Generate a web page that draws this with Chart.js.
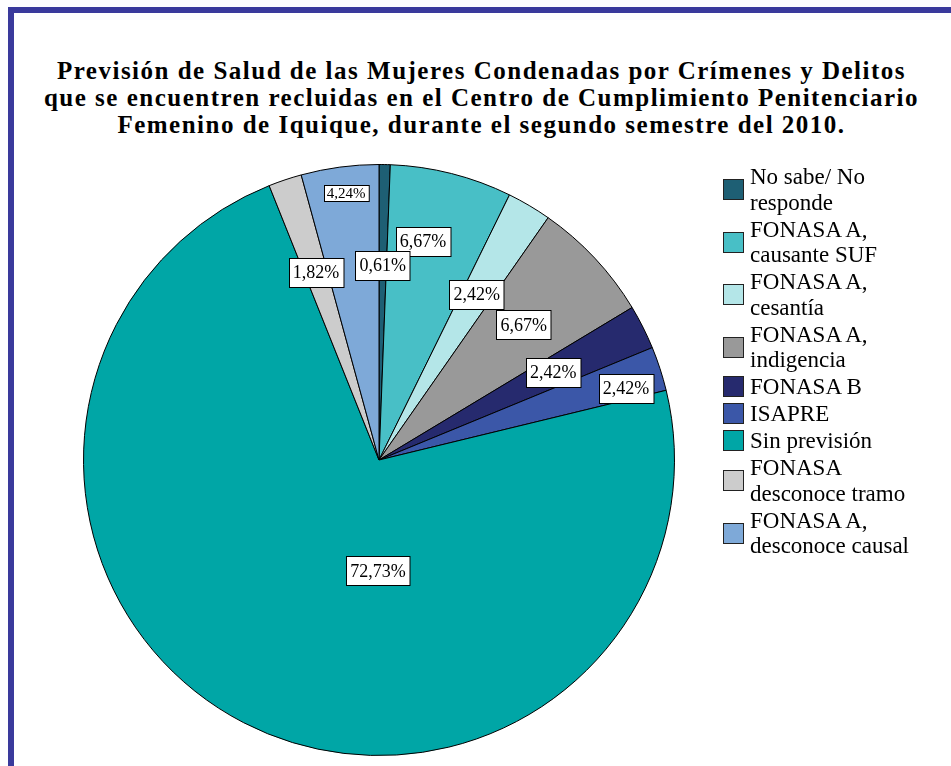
<!DOCTYPE html>
<html lang="es">
<head>
  <meta charset="UTF-8">
  <title>Previsión de Salud</title>
  <script src="https://cdn.jsdelivr.net/npm/chart.js"></script>
  <style>
    html, body { margin: 0; padding: 0; background: #fff; }
    #page { position: relative; width: 951px; height: 766px; overflow: hidden; }
    #frame { position: absolute; left: 8px; top: 7px; width: 960px; height: 780px;
             border-top: 6px solid #3a3a9c; border-left: 6px solid #3a3a9c; }
    #title { position: absolute; left: 0; top: 57px; width: 963px; text-align: center;
             font: bold 25px "Liberation Serif", "Times New Roman", serif; line-height: 27px;
             letter-spacing: 1.5px; color: #000; }
    #chart { position: absolute; left: 0; top: 0; }
    #legend { position: absolute; left: 723px; top: 164px;
              font: 23px "Liberation Serif", "Times New Roman", serif; line-height: 25.5px; color: #000; }
    .item { display: flex; align-items: center; margin-bottom: 1.5px; }
    .box { width: 21px; height: 21px; box-sizing: border-box; border: 1px solid #222; margin-right: 6px; flex: none; }
    .txt { max-width: 170px; }
  </style>
</head>
<body>
<div id="page">
  <div id="frame"></div>
  <div id="title">Previsión de Salud de las Mujeres Condenadas por Crímenes y Delitos<br>que se encuentren recluidas en el Centro de Cumplimiento Penitenciario<br>Femenino de Iquique, durante el segundo semestre del 2010.</div>
  <canvas id="chart" width="951" height="766"></canvas>
  <div id="legend"></div>
</div>
<script>
  // categorías y porcentajes
  const categorias = [
    'No sabe/ No responde',
    'FONASA A, causante SUF',
    'FONASA A, cesantía',
    'FONASA A, indigencia',
    'FONASA B',
    'ISAPRE',
    'Sin previsión',
    'FONASA desconoce tramo',
    'FONASA A, desconoce causal'
  ];
  const porcentajes = [0.61, 6.67, 2.42, 6.67, 2.42, 2.42, 72.73, 1.82, 4.24];
  const colores = ['#1e5f74', '#48bfc6', '#b4e6e8', '#999999', '#262a6e', '#3b57a8', '#00a6a6', '#cccccc', '#7ea9d8'];

  // ubicación de las etiquetas: fracción del radio y giro (grados) respecto al centro del sector
  const etiquetaRadio = [0.66, 0.755, 0.65, 0.67, 0.66, 0.87, 0.375, 0.67, 0.91];
  const etiquetaGiro = [0, -2.8, 0, 0, 0, 1.8, -26.8, 0, 0.6];
  const etiquetaFuente = [18, 18, 18, 18, 18, 18, 18, 18, 15];

  // etiquetas en cajas blancas con borde negro
  const etiquetasPlugin = {
    id: 'etiquetas',
    afterDatasetsDraw(chart) {
      const ctx = chart.ctx;
      const meta = chart.getDatasetMeta(0);
      for (let i = meta.data.length - 1; i >= 0; i--) {
        const arc = meta.data[i];
        const p = arc.getProps(['x', 'y', 'startAngle', 'endAngle', 'outerRadius']);
        const ang = (p.startAngle + p.endAngle) / 2 + etiquetaGiro[i] * Math.PI / 180;
        const r = p.outerRadius * etiquetaRadio[i];
        const cx = p.x + Math.cos(ang) * r;
        const cy = p.y + Math.sin(ang) * r;
        const txt = porcentajes[i].toFixed(2).replace('.', ',') + '%';
        const fs = etiquetaFuente[i];
        ctx.save();
        ctx.font = fs + 'px "Liberation Serif", "Times New Roman", serif';
        const small = fs < 16;
        const w = ctx.measureText(txt).width + (small ? 6 : 8);
        const h = small ? fs + 1 : 29;
        const x0 = Math.round(cx - w / 2) + 0.5, y0 = Math.round(cy - h / 2) + 0.5;
        ctx.fillStyle = '#fff';
        ctx.fillRect(x0, y0, w, h);
        ctx.strokeStyle = '#000';
        ctx.lineWidth = 1;
        ctx.strokeRect(x0, y0, w, h);
        ctx.fillStyle = '#000';
        ctx.textAlign = 'center';
        ctx.textBaseline = 'middle';
        ctx.fillText(txt, cx, cy + 1);
        ctx.restore();
      }
    }
  };

  const chart = new Chart(document.getElementById('chart').getContext('2d'), {
    type: 'pie',
    data: {
      labels: categorias,
      datasets: [{
        data: porcentajes,
        backgroundColor: colores,
        borderColor: '#000',
        borderWidth: 1
      }]
    },
    options: {
      responsive: false,
      animation: false,
      devicePixelRatio: 1,
      layout: { padding: { left: 83, right: 276, top: 164, bottom: 10 } },
      plugins: { legend: { display: false }, tooltip: { enabled: false } }
    },
    plugins: [etiquetasPlugin]
  });

  // leyenda a la derecha
  const leyenda = document.getElementById('legend');
  categorias.forEach((c, i) => {
    const it = document.createElement('div');
    it.className = 'item';
    it.innerHTML = '<span class="box" style="background:' + colores[i] + '"></span><span class="txt">' + c + '</span>';
    leyenda.appendChild(it);
  });
</script>
</body>
</html>
